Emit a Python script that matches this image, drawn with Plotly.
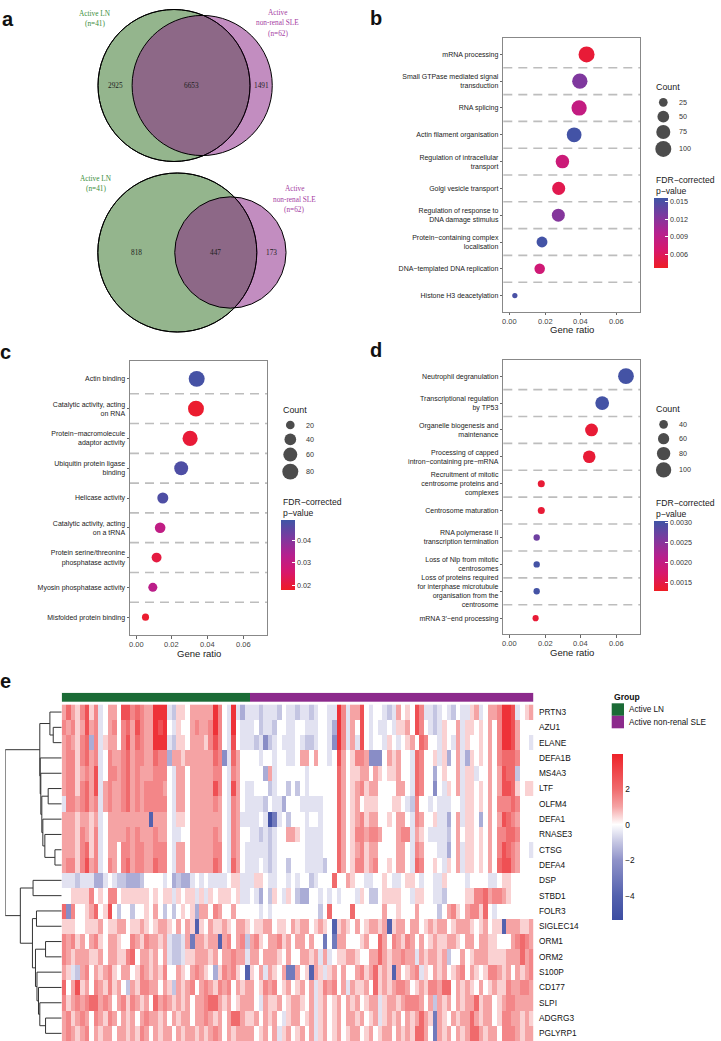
import math
import plotly.graph_objects as go

W, H = 721, 1041
def px(x): return x / W
def py(y): return 1 - y / H

# ------------------------- DATA -------------------------
venn_top_counts = [2925, 6653, 1491]      # LN only, shared, SLE only
venn_bot_counts = [818, 447, 173]
group_names = ["Active LN", "Active non-renal SLE"]
group_n = [41, 62]

b_terms = ["mRNA processing", "Small GTPase mediated signal<br>transduction", "RNA splicing",
           "Actin filament organisation", "Regulation of intracellular<br>transport",
           "Golgi vesicle transport", "Regulation of response to<br>DNA damage stimulus",
           "Protein−containing complex<br>localisation", "DNA−templated DNA replication",
           "Histone H3 deacetylation"]
b_ratio = [0.0434, 0.0396, 0.0392, 0.0364, 0.0298, 0.0277, 0.0275, 0.0183, 0.0170, 0.0030]
b_count = [100, 91, 90, 84, 69, 64, 63, 42, 39, 7]
b_fdr = [0.0045, 0.0125, 0.0085, 0.0155, 0.0078, 0.0055, 0.0122, 0.0155, 0.0075, 0.0152]

c_terms = ["Actin binding", "Catalytic activity, acting<br>on RNA", "Protein−macromolecule<br>adaptor activity",
           "Ubiquitin protein ligase<br>binding", "Helicase activity", "Catalytic activity, acting<br>on a tRNA",
           "Protein serine/threonine<br>phosphatase activity", "Myosin phosphatase activity",
           "Misfolded protein binding"]
c_ratio = [0.0339, 0.0335, 0.0302, 0.0252, 0.0149, 0.0134, 0.0114, 0.0093, 0.0052]
c_count = [80, 79, 71, 59, 35, 32, 27, 22, 12]
c_fdr = [0.048, 0.019, 0.020, 0.047, 0.047, 0.031, 0.021, 0.032, 0.019]

d_terms = ["Neutrophil degranulation", "Transcriptional regulation<br>by TP53",
           "Organelle biogenesis and<br>maintenance", "Processing of capped<br>intron−containing pre−mRNA",
           "Recruitment of mitotic<br>centrosome proteins and<br>complexes", "Centrosome maturation",
           "RNA polymerase II<br>transcription termination", "Loss of Nlp from mitotic<br>centrosomes",
           "Loss of proteins required<br>for interphase microtubule<br>organisation from the<br>centrosome",
           "mRNA 3′−end processing"]
d_ratio = [0.0656, 0.0522, 0.0462, 0.0449, 0.0179, 0.0179, 0.0153, 0.0153, 0.0153, 0.0147]
d_count = [105, 84, 74, 72, 29, 29, 25, 25, 25, 24]
d_fdr = [0.0030, 0.0030, 0.0014, 0.0014, 0.0014, 0.0014, 0.0027, 0.0030, 0.0030, 0.0014]

genes = ["PRTN3", "AZU1", "ELANE", "DEFA1B", "MS4A3", "LTF", "OLFM4", "DEFA1", "RNASE3", "CTSG",
         "DEFA4", "DSP", "STBD1", "FOLR3", "SIGLEC14", "ORM1", "ORM2", "S100P", "CD177", "SLPI",
         "ADGRG3", "PGLYRP1"]

# z-score levels coded by letter
level_chars = "abcdefghijklmn"
level_vals = [-5, -4, -3, -2.2, -1.5, -1, -0.5, 0, 0.5, 1, 1.5, 2, 2.7, 3.5]

# each row: 41 Active LN samples, then 62 Active non-renal SLE samples
heat_rows = [
 "jljikmikgh jjhmmklkjj nnngfiihjj jjjnkhgnge g  ggfgggfhgg fggfghhggn kgjjmhghhg fgjhihmkgg fghgfhggij ghjjknnmgh ij",
 "kjkijmjkgh jkhkljmkjj nmnhgihhjk jjknkhgnhg g  ghfggfhhgg hhggghhgen kgjhmhghgg hgiijhmkhg fgihhjgiih ihjhknnmjh hh",
 "jkjiklekgi jjhkmjlkjj nnngfiihjj jikmkhgmhg g  gfgdfghggg hgffghhgdn kgjgmhghhg ihghijhlkh hgihgjgihh ihjhknnmjh hg",
 "jkkikljkgh kjjkljkkjj lkkejjijjj jjjlkdgljh h  hhghhghhgg hjjhjhhghm jhikkjdddh jijhhglkhh igiehjgeih ihjhklllkh hh",
 "jkkijkjmgh kkjkljkjjj kkkhgjjhjj jjjkkhgkjh h  hhhejghhhh hhghhhhhhl jhiijjhjih iijhhglkhh ehihhjgiig hhjhjmllfh hh",
 "jkkikljmgj kjjkljkjkk kkjhgjjhjj jjjmkhgmjh g  ghhhfghhfh fhghhhhhhl jhijkijjhh hhjjhglkhh dhgihjgiih ihjhjmmlih ii",
 "gkkjkljkgj kjjkljkjkk kkkhgjjhjj jjjkjhgkjh g  gggfhggehh hggggghhhl jhijhiiihh hiihgfkhhg hggghhgiih ihjhkkklkh hh",
 "jjjijjijgh jjjjjjjjjb jjjhgiihjj jjjjjhgkjg g  gghgacghfh hhghhghhhl jhijkijjhh ihjjhgkjhh iggehjgiih ehjhjmlkjh hh",
 "jjjikjikgh jjjjkjkjjj kjjhgghhjj jjjkjhgkjh h  ggfgfghhjj ihgggghhhl jhikkjkkjh hhjkkgjihg gggfhjhiih ihjhkkllkh hh",
 "jjjiklikgh jjhkkjkkjj kkkhgjjhjj jjjkkhgkjh g  ggggfghhhh hhgggghhhl jhijkijjhh hhjjhgkjhh hggehjgiih ihjhkmlkjh hg",
 "jkkikmjkgh kjhkljkkjj lkkhgjjhjj jjjlkhgljh g  gghgfghhfh hhggggfhhl jhikkijkhh ihjjhglkhh ihgihjgiih ihjhlmmkjh hh",
 "gggfgggeeg hgffeeefhh hhghefeegh ghgggghiig g  giihgghhgh ghhfghhhlh hjihhgghhi hgghiihghh ggihhhhghh hhgghiihhh hh",
 "hhiiiikhih kkhiiiiiih ihiigihiig igihiiihig g  hgehfihgih feehhghghg hhhgihffhi iiihhgiihh ggfhhhhiik kljkkjihhh hh",
 "ldkhhijlhi mhfhhfhhih jhfhfhihie jjhkjhhjhh h  hhghghhhhh hhhhhfhlhh hhlhhhhhhj hhihhhjhhh hfhjkihjkk ilhghhhhhh hh",
 "iiihhiiijh iijjhiijih ijjihjhjib ihjiijihjj i  hiijjhiihj ijjhijihbi jihjhijjij bijjhjjhij ijjhijjjih ijhiibjjji ij",
 "kjkijhjkih jjihhkjikj jijgffgjcj jijjbjkhjk f  jkihjjkijh jjhjhhchcj jhhhijhhlj hkjikjhjhi jiijjihjjh jjiihhhjkl kj",
 "kjijjjiijh jjiiklhjji jhjgffgiij jjijhjjkjj g  jjhjjjihjh hjjijgjghi ijjihhjjlj ijjkjjgjij jijfhhjhij jjiiiijjjl jk",
 "jigfjkhjij kihjjhikji jikhhjihjk jiheikjkih b  ihjgjihjcc jhibjigijh jhhjkijlij ibjhijkgih jijhijkhji hikkjijhji jk",
 "lhjmijhkji kijhfjikkj jhjifjijkh jkjikjkhji j  jhikjkhijh ijhjgikjkh jgjiijhlij ijkkjhijik kjllhjijih jhijiikjjk kj",
 "kijkjklljk jhjkikjijh ljkjijijhj jklljijhij j  jhgjiijhij jihjgijhij hjijhijjgi jjijkkkjhj fjijhjijjl ijjhijkkjj jj",
 "jkijkjhkji kjhjijhjkj jijhjijjhj jkjijhjllj i  ijhjijhgij jhijgijhij hjjijhijgi jijhjijlji cjihjijjlj ijjhikkjji ji",
 "jkjijkhjij jhjjijikjh jijjhjijji jijkjhjijj j  jhijhjgijh ijhjgijhij hijjhijhij jhjijilljh cjijhjijll jijjhkkkji jj",
]

# row dendrogram: (left, right, merge height); leaves are row indices
dendro_A = ((0, (1, 2, 8.4), 11.7),
            (3, (4, ((5, 6, 13.4), (7, (8, (9, 10, 6.7), 16.7), 18.7), 19.7), 20.7), 21.3), 21.7)
dendro_B = ((11, 12, 28.4),
            ((13, 14, 25), ((15, 16, 16), (17, (18, (19, (20, 21, 16), 21.7), 23), 24.5), 26), 29), 41)
dendro = (dendro_A, dendro_B, 56)

# ------------------------- STYLE -------------------------
SANS = "Liberation Sans"
SERIF = "Liberation Serif"
GREEN_TXT = "#3B8E3B"
PURPLE_TXT = "#A53DA3"
dot_cs = [[0, '#EE1D24'], [0.25, '#D8176B'], [0.5, '#B5208F'], [0.75, '#7B3A9F'], [1, '#3F55A6']]
ZMIN, ZMAX = -5.34, 3.94
def zt(v): return (v - ZMIN) / (ZMAX - ZMIN)
heat_cs = [[0, '#3C4DA2'], [zt(-4), '#5361AE'], [zt(-2), '#8F92C9'], [zt(-1), '#C4C5E2'],
           [zt(0), '#FFFFFF'], [zt(1), '#F5A3A4'], [zt(2), '#F06A6C'], [1, '#EE2229']]
GRP_COL = ["#1B6B36", "#8C2A8C"]

fig = go.Figure()
shapes, annos = [], []

def canvas_text(x, y, text, size=7.5, color="#1A1A1A", family=SANS, xanchor="center", bold=False):
    if bold:
        text = "<b>" + text + "</b>"
    annos.append(dict(x=x, y=y, xref="x5", yref="y5", text=text, showarrow=False,
                      xanchor=xanchor, yanchor="middle", font=dict(size=size, color=color, family=family)))

# canvas axis in pixel units
fig.add_trace(go.Scatter(x=[], y=[], xaxis="x5", yaxis="y5"))

# ------------------------- VENN -------------------------
def lens_area(r1, r2, d):
    if d >= r1 + r2:
        return 0.0
    if d <= abs(r1 - r2):
        return math.pi * min(r1, r2) ** 2
    a1 = r1 * r1 * math.acos((d * d + r1 * r1 - r2 * r2) / (2 * d * r1))
    a2 = r2 * r2 * math.acos((d * d + r2 * r2 - r1 * r1) / (2 * d * r2))
    a3 = 0.5 * math.sqrt((-d + r1 + r2) * (d + r1 - r2) * (d - r1 + r2) * (d + r1 + r2))
    return a1 + a2 - a3

def venn(counts, cx, cy, r1):
    only1, both, only2 = counts
    n1, n2 = only1 + both, only2 + both
    r2 = r1 * math.sqrt(n2 / n1)
    target = both / n1 * math.pi * r1 * r1
    lo, hi = abs(r1 - r2) + 1e-6, r1 + r2
    for _ in range(80):
        mid = (lo + hi) / 2
        if lens_area(r1, r2, mid) > target:
            lo = mid
        else:
            hi = mid
    dd = (lo + hi) / 2
    cx2 = cx + dd
    shapes.append(dict(type="circle", xref="x5", yref="y5", x0=cx - r1, x1=cx + r1, y0=cy - r1, y1=cy + r1,
                       fillcolor="#94B58D", line=dict(color="black", width=1), layer="above"))
    shapes.append(dict(type="circle", xref="x5", yref="y5", x0=cx2 - r2, x1=cx2 + r2, y0=cy - r2, y1=cy + r2,
                       fillcolor="rgba(133,27,129,0.5)", line=dict(color="black", width=1), layer="above"))
    shapes.append(dict(type="circle", xref="x5", yref="y5", x0=cx - r1, x1=cx + r1, y0=cy - r1, y1=cy + r1,
                       fillcolor="rgba(0,0,0,0)", line=dict(color="black", width=1), layer="above"))
    l1, r1e = cx - r1, cx + r1
    l2, r2e = cx2 - r2, cx2 + r2
    canvas_text((l1 + l2) / 2, cy, f"{only1}", 7.3, "#222", SERIF)
    canvas_text((l2 + r1e) / 2, cy, f"{both}", 7.3, "#222", SERIF)
    canvas_text((r1e + r2e) / 2, cy, f"{only2}", 7.3, "#222", SERIF)

venn(venn_top_counts, 174.0, 85.5, 76.0)
venn(venn_bot_counts, 177.3, 252.5, 79.5)

for (x, y0) in [(95, 13.3), (95.7, 178.3)]:
    canvas_text(x, y0, "Active LN", 7.3, GREEN_TXT, SERIF)
    canvas_text(x, y0 + 10.5, f"(n={group_n[0]})", 7.3, GREEN_TXT, SERIF)
for (x, y0) in [(277.5, 12.0), (294.0, 188.5)]:
    canvas_text(x, y0, "Active", 7.3, PURPLE_TXT, SERIF)
    canvas_text(x, y0 + 10.5, "non-renal SLE", 7.3, PURPLE_TXT, SERIF)
    canvas_text(x, y0 + 21.0, f"(n={group_n[1]})", 7.3, PURPLE_TXT, SERIF)

# ------------------------- DOT PLOTS -------------------------
layout_axes = {}

def dot_panel(idx, x0, x1, y0, y1, terms, ratio, count, fdr, cmin, cmax, sa, sb,
              cb_ticks, cb_text, leg_x, cnt_top, leg_counts, fdr_title_y, cb_top):
    xa, ya = f"xaxis{idx}", f"yaxis{idx}"
    n = len(terms)
    ypos = list(range(n))
    sizes = [sa * math.sqrt(c) + sb for c in count]
    fig.add_trace(go.Scatter(
        x=ratio, y=ypos, mode="markers", xaxis=f"x{idx}", yaxis=f"y{idx}", showlegend=False,
        marker=dict(size=sizes, color=fdr, colorscale=dot_cs, cmin=cmin, cmax=cmax, line=dict(width=0),
                    opacity=1, showscale=True,
                    colorbar=dict(x=px(leg_x), xanchor="left", y=py(cb_top), yanchor="top",
                                  len=69.5, lenmode="pixels", thickness=14, thicknessmode="pixels",
                                  outlinewidth=0, xpad=0, ypad=0, tickvals=cb_ticks, ticktext=cb_text,
                                  ticks="inside", ticklen=3, tickcolor="white",
                                  tickfont=dict(size=7.2, color="#333", family=SANS)))))
    xticks = [0, 0.02, 0.04, 0.06]
    layout_axes[xa] = dict(domain=[px(x0), px(x1)], range=[-0.0035, 0.0735], anchor=f"y{idx}",
                           tickvals=xticks, showticklabels=False,
                           showgrid=False, zeroline=False, showline=True, mirror=True, linecolor="#888",
                           linewidth=1, ticks="outside", ticklen=2.5, tickcolor="#666", tickwidth=1)
    for t in xticks:
        annos.append(dict(x=t, y=0, xref=f"x{idx}", yref=f"y{idx} domain", text=f"{t:.2f}", showarrow=False,
                          xanchor="center", yanchor="top", yshift=-3, font=dict(size=7.5, color="#444", family=SANS)))
    layout_axes[ya] = dict(domain=[py(y1), py(y0)], range=[n - 1 + 0.6, -0.6], anchor=f"x{idx}",
                           tickvals=ypos, ticktext=terms, showgrid=False, zeroline=False, showline=True,
                           mirror=True, linecolor="#888", linewidth=1, ticks="outside", ticklen=2.5,
                           tickcolor="#666", tickwidth=1, tickfont=dict(size=7.0, color="#222", family=SANS))
    for k in range(n - 1):
        shapes.append(dict(type="line", xref=f"x{idx} domain", yref=f"y{idx}", x0=0, x1=1,
                           y0=k + 0.5, y1=k + 0.5, line=dict(color="#BDBDBD", width=1.6, dash="9px,6px"),
                           layer="below"))
    canvas_text((x0 + x1) / 2, y1 + 18, "Gene ratio", 9.5, "#1A1A1A")
    canvas_text(leg_x, cnt_top - 8, "Count", 8.9, "#1A1A1A", xanchor="left")
    ys, cur = [], cnt_top
    lsizes = [sa * math.sqrt(c) + sb for c in leg_counts]
    for s in lsizes:
        hgt = max(s + 2, 14.4)
        ys.append(cur + hgt / 2)
        cur += hgt
    fig.add_trace(go.Scatter(x=[leg_x + 9.3] * len(leg_counts), y=ys, mode="markers", xaxis="x5", yaxis="y5",
                             showlegend=False, marker=dict(size=lsizes, color="black", line=dict(width=0))))
    for c, yv in zip(leg_counts, ys):
        canvas_text(leg_x + 22.7, yv, str(c), 7.2, "#333", xanchor="left")
    canvas_text(leg_x, fdr_title_y, "FDR−corrected", 8.6, "#1A1A1A", xanchor="left")
    canvas_text(leg_x, fdr_title_y + 10.5, "p−value", 8.6, "#1A1A1A", xanchor="left")

dot_panel(2, 503.3, 640, 38.3, 311.7, b_terms, b_ratio, b_count, b_fdr, 0.0037, 0.0157, 1.46, 1.4,
          [0.006, 0.009, 0.012, 0.015], ["0.006", "0.009", "0.012", "0.015"],
          654, 95.1, [25, 50, 75, 100], 180, 197.7)
dot_panel(3, 130, 267.3, 361, 635, c_terms, c_ratio, c_count, c_fdr, 0.0178, 0.0489, 1.63, 1.4,
          [0.02, 0.03, 0.04], ["0.02", "0.03", "0.04"],
          281, 417.8, [20, 40, 60, 80], 502.3, 520.3)
dot_panel(4, 503.3, 640, 360, 634.3, d_terms, d_ratio, d_count, d_fdr, 0.00129, 0.00304, 1.79, -2.6,
          [0.0015, 0.002, 0.0025, 0.003], ["0.0015", "0.0020", "0.0025", "0.0030"],
          654.3, 417.1, [40, 60, 80, 100], 503.3, 521)

# ------------------------- HEATMAP -------------------------
cmap = dict(zip(level_chars, level_vals))
ncol = sum(group_n)
z = []
for r in heat_rows:
    s = r.replace(" ", "")
    s = (s + "h" * ncol)[:ncol]
    z.append([cmap[ch] for ch in s])

HX0, HX1 = 61.7, 533.3
HY0, HY1 = 704.4, 1041.0
fig.add_trace(go.Heatmap(z=z, x=list(range(ncol)), y=list(range(len(genes))), xaxis="x6", yaxis="y6",
                         colorscale=heat_cs, zmin=ZMIN, zmax=ZMAX, showscale=True, hoverinfo="skip",
                         colorbar=dict(x=px(612.3), xanchor="left", y=py(754.3), yanchor="top", len=165.7,
                                       lenmode="pixels", thickness=11, thicknessmode="pixels", outlinewidth=0,
                                       xpad=0, ypad=0, tickvals=[-4, -2, 0, 2], ticktext=["−4", "−2", "0", "2"],
                                       ticks="", tickfont=dict(size=8.3, color="#111", family=SANS))))
layout_axes["xaxis6"] = dict(domain=[px(HX0), px(HX1)], range=[-0.5, ncol - 0.5], visible=False, anchor="y6")
layout_axes["yaxis6"] = dict(domain=[py(HY1), py(HY0)], range=[len(genes) - 0.5, -0.5], anchor="x6",
                             side="right", tickvals=list(range(len(genes))), ticktext=genes, ticks="outside",
                             ticklen=3, tickcolor="rgba(0,0,0,0)", showgrid=False, zeroline=False,
                             showline=False, tickfont=dict(size=8.3, color="#111", family=SANS))

grp = [0] * group_n[0] + [1] * group_n[1]
fig.add_trace(go.Heatmap(z=[grp], x=list(range(ncol)), y=[0], xaxis="x7", yaxis="y7", zmin=0, zmax=1,
                         colorscale=[[0, GRP_COL[0]], [0.5, GRP_COL[0]], [0.5, GRP_COL[1]], [1, GRP_COL[1]]],
                         showscale=False, hoverinfo="skip"))
layout_axes["xaxis7"] = dict(domain=[px(HX0), px(HX1)], range=[-0.5, ncol - 0.5], visible=False, anchor="y7")
layout_axes["yaxis7"] = dict(domain=[py(702.0), py(692.7)], range=[-0.5, 0.5], visible=False, anchor="x7")

seg_x, seg_y = [], []
def draw(node):
    if isinstance(node, int):
        return float(node), 0.0
    l, r, h = node
    lp, lh = draw(l)
    rp, rh = draw(r)
    seg_x.extend([lh, h, h, rh, None])
    seg_y.extend([lp, lp, rp, rp, None])
    return (lp + rp) / 2, h
draw(dendro)
fig.add_trace(go.Scatter(x=seg_x, y=seg_y, mode="lines", xaxis="x8", yaxis="y8", showlegend=False,
                         line=dict(color="#333", width=1), hoverinfo="skip"))
layout_axes["xaxis8"] = dict(domain=[px(5.2), px(HX0)], range=[dendro[2], 0], visible=False, anchor="y8")
layout_axes["yaxis8"] = dict(domain=[py(HY1), py(HY0)], range=[len(genes) - 0.5, -0.5], visible=False, anchor="x8")

canvas_text(611.7, 696.7, "Group", 8.6, "#111", xanchor="left", bold=True)
for i, name in enumerate(group_names):
    yt = 703.3 + i * 12.5
    shapes.append(dict(type="rect", xref="x5", yref="y5", x0=611.7, x1=624.0, y0=yt, y1=yt + 12.5,
                       fillcolor=GRP_COL[i], line=dict(width=0)))
    canvas_text(626.7, yt + 6.3, name, 8.2, "#111", xanchor="left")

for letter, x, y in [("a", 8.3, 19), ("b", 376, 18.3), ("c", 5.5, 351.7), ("d", 376, 350), ("e", 5.2, 680.8)]:
    canvas_text(x, y, letter, 20, "#111", xanchor="center", bold=True)

layout_axes["xaxis5"] = dict(domain=[0, 1], range=[0, W], visible=False, anchor="y5")
layout_axes["yaxis5"] = dict(domain=[0, 1], range=[H, 0], visible=False, anchor="x5")
layout_axes["xaxis"] = dict(visible=False)
layout_axes["yaxis"] = dict(visible=False)

fig.update_layout(width=W, height=H, margin=dict(l=0, r=0, t=0, b=0), paper_bgcolor="white",
                  plot_bgcolor="rgba(0,0,0,0)", showlegend=False, shapes=shapes, annotations=annos,
                  font=dict(family=SANS), hovermode=False, **layout_axes)
fig.write_html("out.html", config={"displayModeBar": False, "staticPlot": True},
               post_script="document.body.style.margin='0px';document.body.style.overflow='hidden';")
